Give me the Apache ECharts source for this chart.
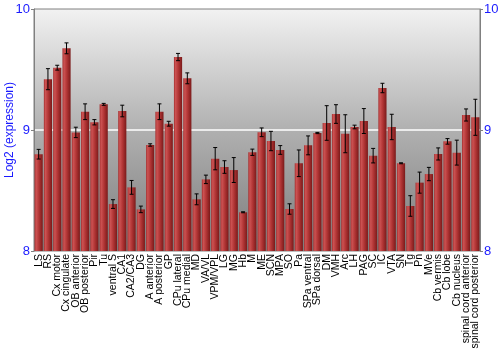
<!DOCTYPE html>
<html>
<head>
<meta charset="utf-8">
<script src="https://cdn.jsdelivr.net/npm/echarts@6/dist/echarts.min.js"></script>
<style>html,body{margin:0;padding:0;background:#fff}#c{width:500px;height:350px}</style>
</head>
<body>
<div id="c"></div>
<script>
const categories = ["LS","RS","Cx motor","Cx cingulate","OB anterior","OB posterior","Pir","Tu","ventral S","CA1","CA2/CA3","DG","A anterior","A posterior","GP","CPu lateral","CPu medial","MD","VA/VL","VPM/VPL","LG","MG","Hb","M","ME","SCN","MPA","SO","Pa","SPa ventral","SPa dorsal","DM","VMH","Arc","LH","PAG","SC","IC","VTA","SN","Tg","Pn","MVe","Cb vermis","Cb lobe","Cb nucleus","spinal cord anterior","spinal cord posterior"];
const values = [8.80,9.42,9.515,9.675,8.98,9.151,9.064,9.212,8.388,9.157,8.526,8.344,8.876,9.151,9.052,9.603,9.427,8.427,8.592,8.763,8.694,8.669,8.32,8.816,8.981,8.909,8.835,8.347,8.725,8.873,8.975,9.058,9.132,8.969,9.025,9.074,8.788,9.347,9.025,8.725,8.372,8.565,8.636,8.802,8.906,8.813,9.124,9.105];
const errors = [0.04,0.087,0.02,0.045,0.043,0.065,0.022,0.008,0.036,0.048,0.057,0.027,0.01,0.065,0.02,0.03,0.045,0.045,0.035,0.092,0.052,0.103,0.004,0.026,0.036,0.08,0.036,0.043,0.11,0.078,0.005,0.143,0.077,0.157,0.015,0.103,0.06,0.039,0.105,0.004,0.085,0.087,0.055,0.05,0.023,0.103,0.05,0.149];
const yTicks = [8, 9, 10];

const errData = values.map((v, i) => [i, v - errors[i], v + errors[i]]);
const chart = echarts.init(document.getElementById('c'), null, {renderer: 'canvas'});
const blue = '#1a1aff';
const font = 'Liberation Sans, Arial, sans-serif';
const yAxisCommon = {
  type: 'value', min: yTicks[0], max: yTicks[yTicks.length - 1], interval: 1,
  axisLine: {show: true, lineStyle: {color: '#808080', width: 1}},
  axisTick: {show: true, length: 3, lineStyle: {color: '#808080'}},
  axisLabel: {color: blue, fontSize: 13, fontFamily: font, margin: 4},
};
chart.setOption({
  animation: false,
  grid: {
    left: 34, right: 20, top: 9, bottom: 99, show: true,
    containLabel: false, outerBoundsMode: 'none',
    borderColor: '#808080', borderWidth: 1,
    backgroundColor: new echarts.graphic.LinearGradient(0, 0, 0, 1, [
      {offset: 0, color: '#f2f2f2'},
      {offset: 0.5, color: '#b0b0b0'},
      {offset: 1, color: '#7c7c7c'}
    ])
  },
  xAxis: {
    type: 'category', data: categories,
    axisLine: {show: false}, axisTick: {show: false},
    axisLabel: {rotate: 90, interval: 0, fontSize: 10.5, fontFamily: font, color: '#000', margin: 3}
  },
  yAxis: [
    Object.assign({}, yAxisCommon, {
      position: 'left',
      name: 'Log2 (expression)', nameLocation: 'middle', nameGap: 18, nameMoveOverlap: false,
      nameTextStyle: {color: blue, fontSize: 12, fontFamily: font},
      splitLine: {show: true, lineStyle: {color: ['rgba(0,0,0,0)', '#ffffff', 'rgba(0,0,0,0)'], width: 1.5}}
    }),
    Object.assign({}, yAxisCommon, {
      position: 'right', splitLine: {show: false}
    })
  ],
  series: [
    {
      type: 'bar', data: values, barCategoryGap: '12%',
      itemStyle: {
        color: new echarts.graphic.LinearGradient(0, 0, 1, 0, [
          {offset: 0, color: '#a53030'},
          {offset: 0.2, color: '#cc5252'},
          {offset: 0.55, color: '#b03434'},
          {offset: 1, color: '#7a1a1a'}
        ])
      }
    },
    {
      type: 'custom', data: errData, z: 5,
      renderItem: function (params, api) {
        const x = api.value(0);
        const lo = api.coord([x, api.value(1)]);
        const hi = api.coord([x, api.value(2)]);
        const cw = 2;
        const st = {stroke: '#000', lineWidth: 1};
        return {
          type: 'group',
          children: [
            {type: 'line', shape: {x1: lo[0], y1: lo[1], x2: hi[0], y2: hi[1]}, style: st},
            {type: 'line', shape: {x1: lo[0] - cw, y1: lo[1], x2: lo[0] + cw, y2: lo[1]}, style: st},
            {type: 'line', shape: {x1: hi[0] - cw, y1: hi[1], x2: hi[0] + cw, y2: hi[1]}, style: st}
          ]
        };
      }
    }
  ]
});
</script>
</body>
</html>
